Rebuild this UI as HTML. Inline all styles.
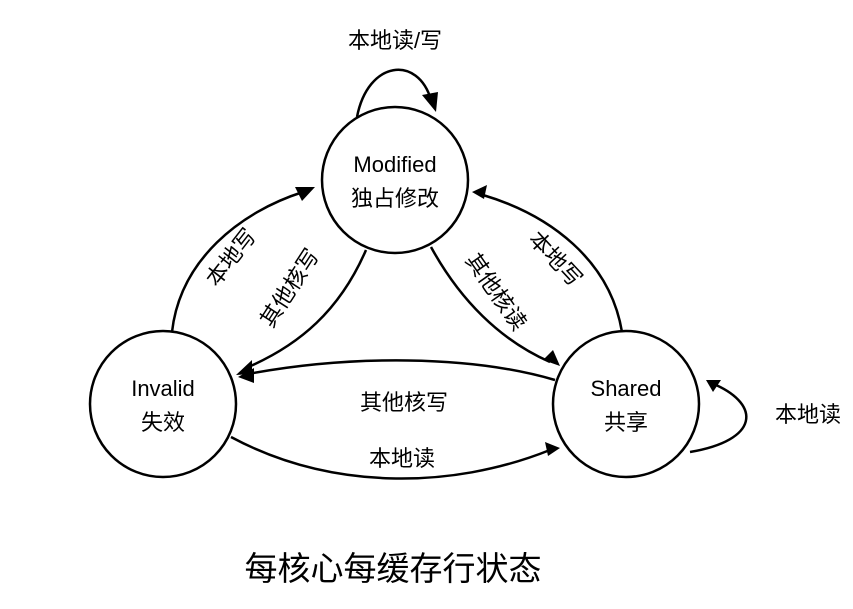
<!DOCTYPE html>
<html><head><meta charset="utf-8"><style>
html,body{margin:0;padding:0;background:#fff;}
svg{display:block;}
text{font-family:"Liberation Sans","Noto Sans CJK SC",sans-serif;fill:#000;}
</style></head><body>
<svg width="853" height="609" viewBox="0 0 853 609" xmlns="http://www.w3.org/2000/svg">
<g fill="none" stroke="#000" stroke-width="2.5">
<circle cx="395" cy="180" r="73"/>
<circle cx="163" cy="404" r="73"/>
<circle cx="626" cy="404" r="73"/>
<path d="M357,117 C368,60 418,55 431,100"/>
<path d="M172,332 C180,260 240,212 303,192"/>
<path d="M366,250 C340,310 300,345 246,368"/>
<path d="M431,247 C460,300 500,340 550,362"/>
<path d="M622,332 C610,260 550,215 483,195"/>
<path d="M555,380 C470,355 350,355 248,374"/>
<path d="M231,437 C330,490 450,490 550,450"/>
<path d="M690,452 C760,440 760,405 716,385"/>
</g>
<g>
<path d="M422,95 L436,112 L438,92 z"/>
<path d="M295,187 L315,187 L302,201 z"/>
<path d="M236,375 L252,360 L252,374 z"/>
<path d="M560,366 L543,360 L553,350 z"/>
<path d="M472,192 L487,185 L484,199 z"/>
<path d="M238,377 L254,368 L254,383 z"/>
<path d="M560,448 L545,442 L548,456 z"/>
<path d="M706,380 L721,380 L713,392 z"/>
</g>
<g font-size="22" text-anchor="middle">
<text x="395" y="172">Modified</text>
<text x="395" y="206">独占修改</text>
<text x="163" y="396">Invalid</text>
<text x="163" y="430">失效</text>
<text x="626" y="396">Shared</text>
<text x="626" y="430">共享</text>
<text x="395" y="48">本地读/写</text>
<text x="404" y="410">其他核写</text>
<text x="402" y="466">本地读</text>
<text x="808" y="422">本地读</text>
<text transform="translate(237,262) rotate(-52)">本地写</text>
<text transform="translate(296,292) rotate(-57)">其他核写</text>
<text transform="translate(490,296) rotate(55)">其他核读</text>
<text transform="translate(550,264) rotate(47)">本地写</text>
</g>
<text x="393" y="580" font-size="33" text-anchor="middle">每核心每缓存行状态</text>
</svg>
</body></html>
